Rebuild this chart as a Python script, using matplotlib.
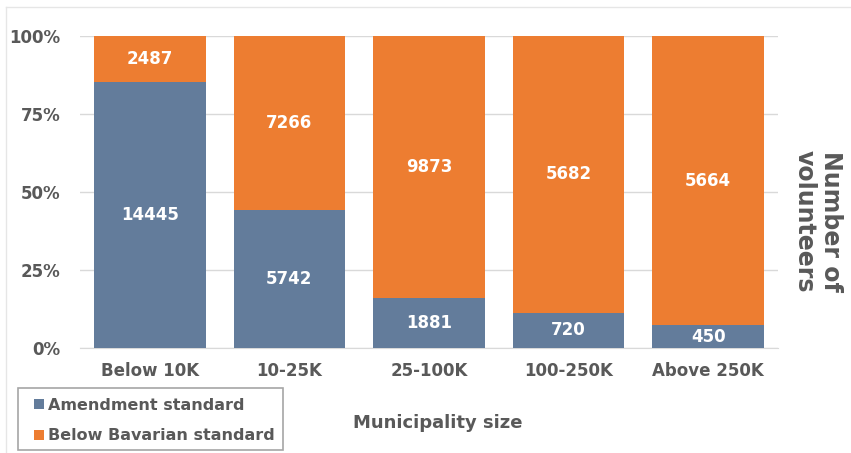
import numpy as np
import matplotlib.pyplot as plt
from matplotlib.lines import Line2D
from matplotlib.patches import Rectangle
from matplotlib.ticker import PercentFormatter

categories = ["Below 10K", "10-25K", "25-100K", "100-250K", "Above 250K"]
amendment = [14445, 5742, 1881, 720, 450]
below_bavarian = [2487, 7266, 9873, 5682, 5664]

blue = "#637C9B"
orange = "#ED7D31"
grey_text = "#595959"

plt.rcParams["font.family"] = "DejaVu Sans"
plt.rcParams["font.weight"] = "bold"

am = np.array(amendment, dtype=float)
bb = np.array(below_bavarian, dtype=float)
total = am + bb
am_pct = am / total * 100
bb_pct = bb / total * 100

W, H = 851, 453
fig = plt.figure(figsize=(W / 100, H / 100), dpi=100)
ax = fig.add_axes([80 / W, 1 - 348 / H, 698 / W, 312 / H])

x = np.arange(len(categories))
b1 = ax.bar(x, am_pct, 0.8, color=blue, label="Amendment standard", zorder=3)
b2 = ax.bar(x, bb_pct, 0.8, bottom=am_pct, color=orange,
            label="Below Bavarian standard", zorder=3)

# value labels in the middle of each segment
for i in range(len(categories)):
    ax.text(x[i], am_pct[i] / 2, f"{amendment[i]}", ha="center", va="center",
            color="white", fontsize=12, fontweight="bold", zorder=4)
    ax.text(x[i], am_pct[i] + bb_pct[i] / 2, f"{below_bavarian[i]}",
            ha="center", va="center", color="white", fontsize=12,
            fontweight="bold", zorder=4)

ax.set_xlim(-0.5, 4.5)
ax.set_ylim(0, 100)
ax.set_yticks([0, 25, 50, 75, 100])
ax.yaxis.set_major_formatter(PercentFormatter(decimals=0))
ax.set_xticks(x)
ax.set_xticklabels(categories)
ax.tick_params(axis="both", length=0, labelsize=12, colors=grey_text)
ax.tick_params(axis="x", pad=10)
ax.tick_params(axis="y", pad=14)
for lab in ax.get_xticklabels() + ax.get_yticklabels():
    lab.set_fontweight("bold")

ax.grid(axis="y", color="#D9D9D9", linewidth=1, zorder=0)
for s in ["top", "right", "left"]:
    ax.spines[s].set_visible(False)
ax.spines["bottom"].set_color("#D9D9D9")

fig.text(438 / W, 1 - 423 / H, "Municipality size", ha="center",
         va="center", fontsize=13, fontweight="bold", color=grey_text)
fig.text(818 / W, 1 - 221 / H, "Number of\nvolunteers", ha="center",
         va="center", rotation=-90, fontsize=17, fontweight="bold",
         color=grey_text, linespacing=1.1)

# legend box drawn separately so the padding can differ per side
fig.add_artist(Rectangle((18 / W, 1 - 450 / H), 265 / W, 62 / H,
                         transform=fig.transFigure, facecolor="white",
                         edgecolor="#A6A6A6", linewidth=1.2))
leg = fig.legend(handles=[b1, b2], loc="center left",
                 bbox_to_anchor=(34 / W, 1 - 420.5 / H),
                 borderaxespad=0, frameon=False,
                 handlelength=0.6, handleheight=0.6, handletextpad=0.3,
                 borderpad=0, labelspacing=1.0,
                 prop={"size": 11.5, "weight": "bold"})
for t in leg.get_texts():
    t.set_color(grey_text)

# faint outer chart border (top and left visible)
fig.add_artist(Line2D([6 / W, 1], [1 - 7 / H, 1 - 7 / H],
                      transform=fig.transFigure, color="#E6E6E6", lw=1))
fig.add_artist(Line2D([6 / W, 6 / W], [0, 1 - 7 / H],
                      transform=fig.transFigure, color="#E6E6E6", lw=1))

fig.savefig("out.png", dpi=100)
